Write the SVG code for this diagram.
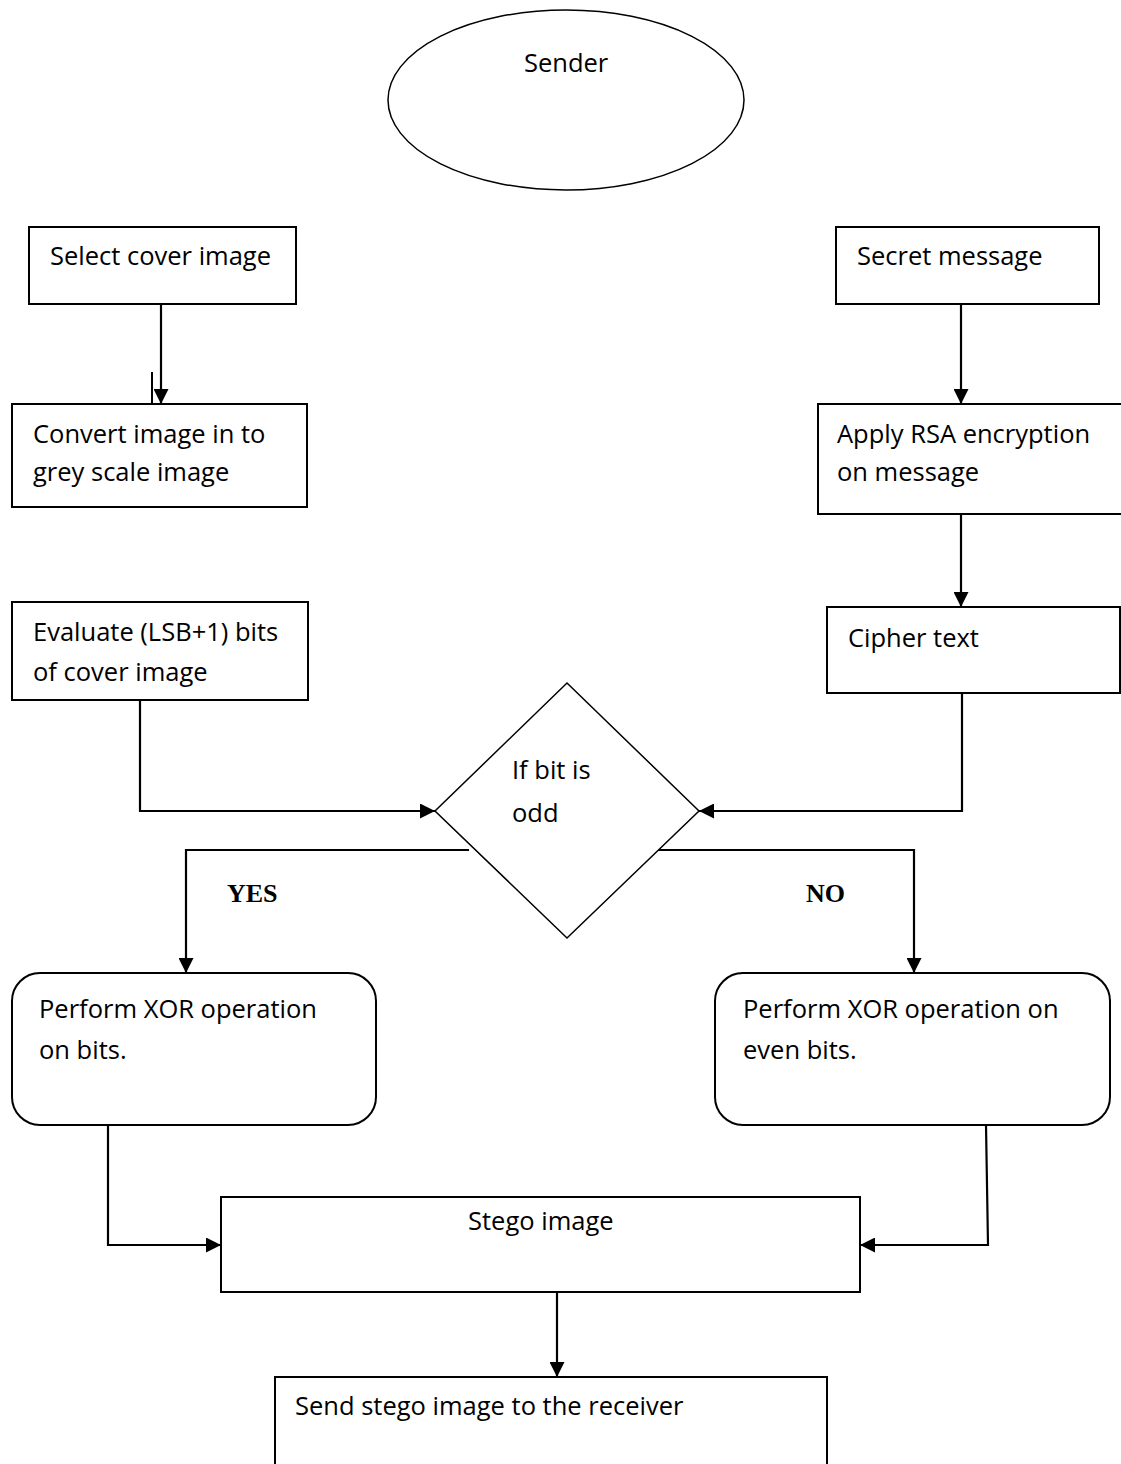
<svg xmlns="http://www.w3.org/2000/svg" width="1121" height="1464" viewBox="0 0 1121 1464">
<defs>
<style>
.box{fill:#fff;stroke:#000;stroke-width:2}
.thin{fill:#fff;stroke:#000;stroke-width:1.5}
.t{font-family:"Open Sans","Liberation Sans",sans-serif;font-size:25.5px;fill:#000}
.lb{font-family:"Liberation Serif","Times New Roman",serif;font-size:26px;font-weight:bold;fill:#000}
.c{fill:none;stroke:#000;stroke-width:2}
.ca{fill:none;stroke:#000;stroke-width:2.2;marker-end:url(#ah)}
</style>
<marker id="ah" viewBox="0 0 15 15" refX="15" refY="7.5" markerWidth="15" markerHeight="15" markerUnits="userSpaceOnUse" orient="auto">
<path d="M0,0 L15,7.5 L0,15 Z" fill="#000"/>
</marker>
</defs>
<rect width="1121" height="1464" fill="#fff"/>
<g id="connectors">
<path class="ca" d="M161,304 V404"/>
<path class="c" d="M152,372 V404" stroke-width="1.5"/>
<path class="ca" d="M961,304 V404"/>
<path class="ca" d="M961,514 V607"/>
<path class="ca" d="M140,700 V811 H435"/>
<path class="ca" d="M962,693 V811 H699"/>
<path class="ca" d="M469,850 H186 V973"/>
<path class="ca" d="M655,850 H914 V973"/>
<path class="ca" d="M108,1125 V1245 H221"/>
<path class="ca" d="M986,1125 L988,1245 H860"/>
<path class="ca" d="M557,1292 V1377"/>
</g>
<g id="sender">
<ellipse class="thin" cx="566" cy="100" rx="178" ry="90"/>
<text class="t" x="524" y="72">Sender</text>
</g>
<g id="select-cover">
<rect class="box" x="29" y="227" width="267" height="77"/>
<text class="t" x="50" y="265">Select cover image</text>
</g>
<g id="secret-message">
<rect class="box" x="836" y="227" width="263" height="77"/>
<text class="t" x="857" y="265">Secret message</text>
</g>
<g id="convert">
<rect class="box" x="12" y="404" width="295" height="103"/>
<text class="t" x="33" y="443">Convert image in to</text>
<text class="t" x="33" y="481">grey scale image</text>
</g>
<g id="rsa">
<rect class="box" x="818" y="404" width="310" height="110"/>
<text class="t" x="837" y="443">Apply RSA encryption</text>
<text class="t" x="837" y="481">on message</text>
</g>
<g id="evaluate">
<rect class="box" x="12" y="602" width="296" height="98"/>
<text class="t" x="33" y="641">Evaluate (LSB+1) bits</text>
<text class="t" x="33" y="681">of cover image</text>
</g>
<g id="cipher">
<rect class="box" x="827" y="607" width="293" height="86"/>
<text class="t" x="848" y="647">Cipher text</text>
</g>
<g id="decision">
<polygon class="thin" points="567,683 699,811 567,938 435,811"/>
<text class="t" x="512" y="779">If bit is</text>
<text class="t" x="512" y="822">odd</text>
</g>
<g id="labels">
<text class="lb" x="227" y="902">YES</text>
<text class="lb" x="806" y="902">NO</text>
</g>
<g id="xor-odd">
<rect class="box" x="12" y="973" width="364" height="152" rx="28" ry="28"/>
<text class="t" x="39" y="1018">Perform XOR operation</text>
<text class="t" x="39" y="1059">on bits.</text>
</g>
<g id="xor-even">
<rect class="box" x="715" y="973" width="395" height="152" rx="28" ry="28"/>
<text class="t" x="743" y="1018">Perform XOR operation on</text>
<text class="t" x="743" y="1059">even bits.</text>
</g>
<g id="stego">
<rect class="box" x="221" y="1197" width="639" height="95"/>
<text class="t" x="468" y="1230">Stego image</text>
</g>
<g id="send">
<rect class="box" x="275" y="1377" width="552" height="100"/>
<text class="t" x="295" y="1415">Send stego image to the receiver</text>
</g>
</svg>
